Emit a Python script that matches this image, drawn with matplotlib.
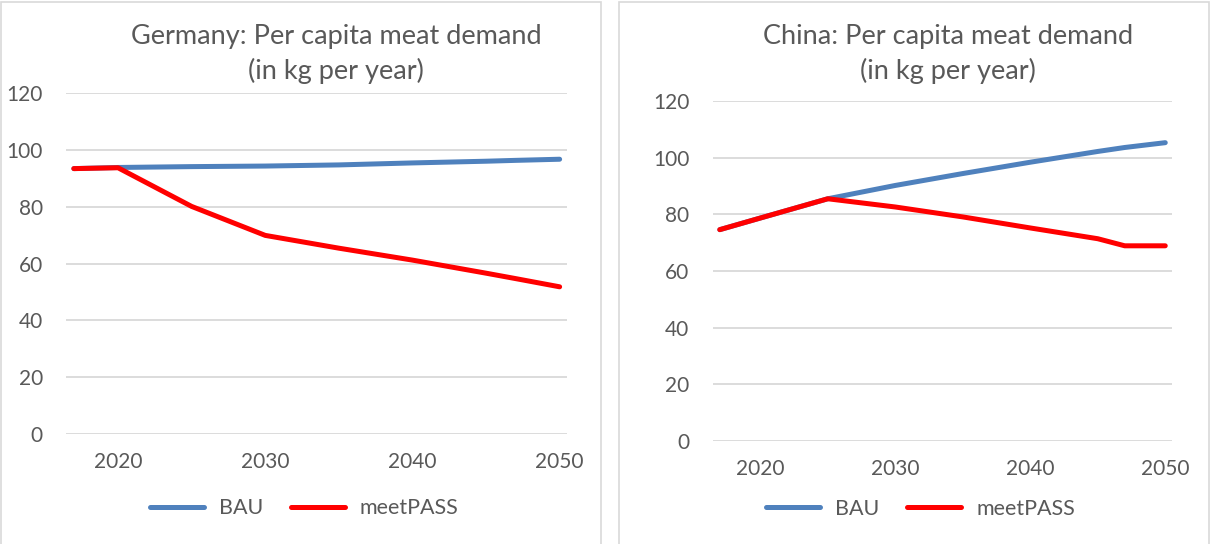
import matplotlib.pyplot as plt
from matplotlib.patches import Rectangle

plt.rcParams['font.family'] = ['Lato', 'DejaVu Sans']

TXT = "#595959"
GRID = "#d9d9d9"
BLUE = "#4f81bd"
RED = "#ff0000"

years = [2017, 2020, 2025, 2030, 2035, 2040, 2045, 2047, 2050]

# Germany
de_bau      = [93.4, 93.8, 94.1, 94.3, 94.7, 95.4, 96.0, 96.3, 96.7]
de_meetpass = [93.4, 93.7, 80.1, 69.9, 65.4, 61.2, 56.6, 54.7, 51.8]

# China
cn_bau      = [74.6, 78.7, 85.5, 90.2, 94.4, 98.4, 102.2, 103.6, 105.3]
cn_meetpass = [74.6, 78.7, 85.5, 82.6, 79.1, 75.2, 71.4, 68.9, 68.9]

yticks = [0, 20, 40, 60, 80, 100, 120]
xticks = [2020, 2030, 2040, 2050]

panels = [
    ("Germany: Per capita meat demand\n(in kg per year)", de_bau, de_meetpass,
     [0.0549, 0.2022, 0.4133, 0.6268], (1, 601), 0.2775, (0.475, -0.218)),
    ("China: Per capita meat demand\n(in kg per year)", cn_bau, cn_meetpass,
     [0.5888, 0.1893, 0.3790, 0.6250], (619, 1209), 0.7828, (0.452, -0.2)),
]

fig = plt.figure(figsize=(12.11, 5.44), dpi=100)
W, H = 1211, 544

for title, bau, mp, pos, (px0, px1), title_x, leg_xy in panels:
    # chart frame
    fig.patches.append(Rectangle((px0 / W, -0.01), (px1 - px0) / W, 1.0 - 2 / H + 0.01,
                                 transform=fig.transFigure, fill=False,
                                 edgecolor=GRID, lw=1.2))
    ax = fig.add_axes(pos)
    ax.plot(years, bau, color=BLUE, lw=3.6, solid_capstyle='round', label="BAU", zorder=3)
    ax.plot(years, mp, color=RED, lw=3.6, solid_capstyle='round', label="meetPASS", zorder=4)

    ax.set_xlim(2016.5, 2050.5)
    ax.set_ylim(0, 120)
    ax.set_yticks(yticks)
    ax.set_xticks(xticks)
    ax.yaxis.grid(True, color=GRID, lw=1.3)
    ax.set_axisbelow(True)
    for s in ax.spines.values():
        s.set_visible(False)
    ax.tick_params(length=0, labelsize=15, colors=TXT)
    ax.tick_params(axis='y', pad=17)
    ax.tick_params(axis='x', pad=13)

    fig.text(title_x, 1 - 54 / H, title, ha='center', va='center',
             fontsize=19.5, color=TXT, linespacing=1.45)

    ax.legend(loc='center', bbox_to_anchor=leg_xy, ncol=2, frameon=False,
              fontsize=15.5, labelcolor=TXT, handlelength=2.5, handletextpad=0.7,
              columnspacing=1.3)

fig.savefig("out.png", dpi=100, facecolor="white")
